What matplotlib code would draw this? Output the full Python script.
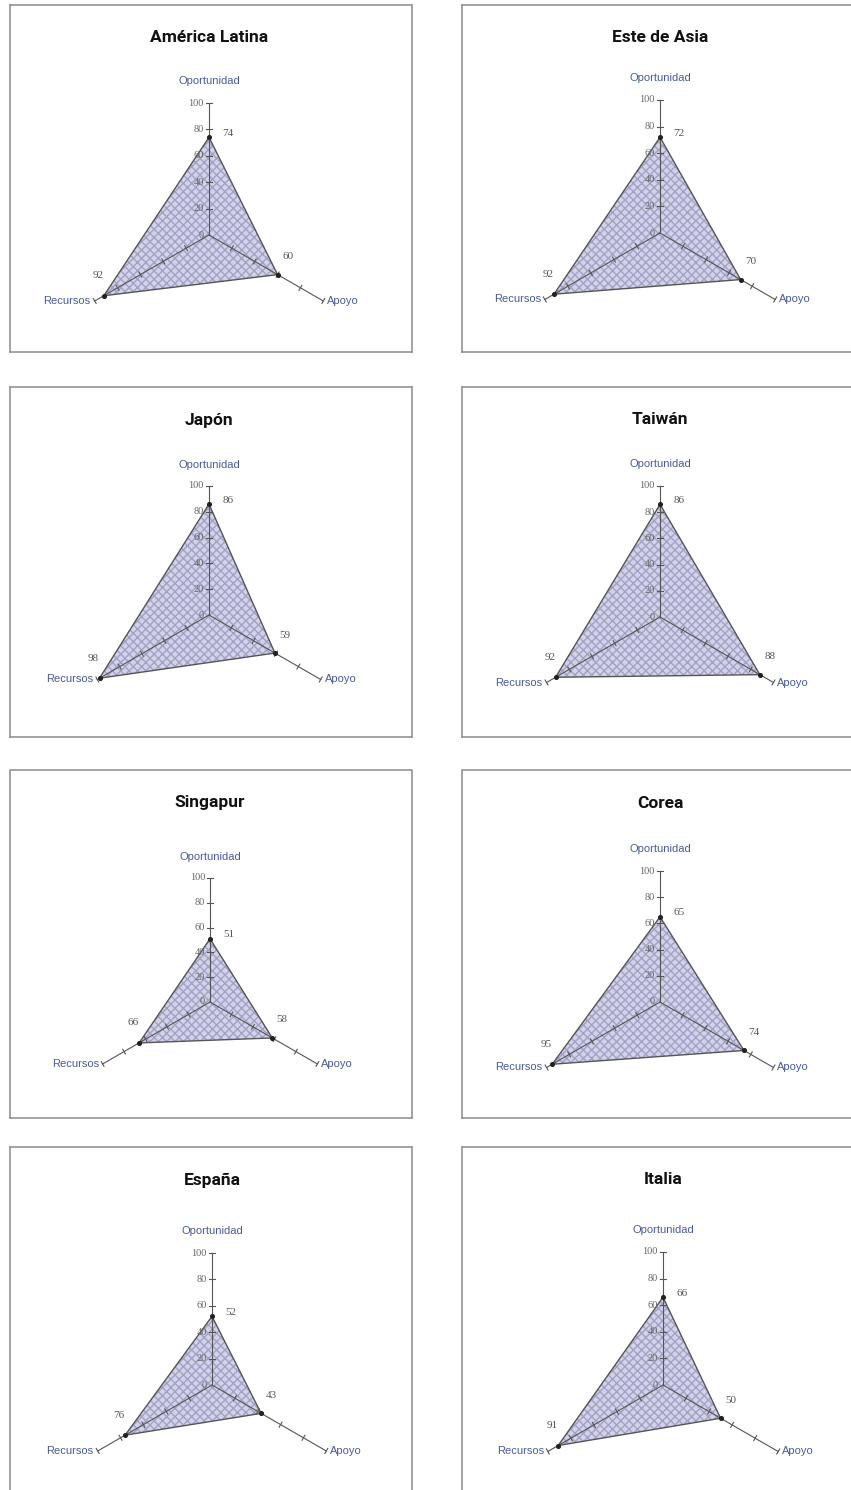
import numpy as np
import matplotlib
matplotlib.use("Agg")
import matplotlib.pyplot as plt
from matplotlib.patches import Polygon

# Scores per region on the three dimensions (0-100)
regions = ["América Latina", "Este de Asia", "Japón", "Taiwán",
           "Singapur", "Corea", "España", "Italia"]
oportunidad = [74, 72, 86, 86, 51, 65, 52, 66]
apoyo = [60, 70, 59, 88, 58, 74, 43, 50]
recursos = [92, 92, 98, 92, 66, 95, 76, 91]
dimensions = ["Oportunidad", "Apoyo", "Recursos"]
scale_ticks = [0, 20, 40, 60, 80, 100]

W, H = 851, 1490
fig = plt.figure(figsize=(W / 100, H / 100), dpi=100)
fig.patch.set_facecolor("white")

title_font = ["Roboto", "DejaVu Sans"]
sans = ["Liberation Sans", "DejaVu Sans"]
serif = ["Liberation Serif", "DejaVu Serif"]

# panel frames (pixels)
col_x = [10, 462]
row_y = [5, 387, 770, 1147]
row_h = [347, 350, 348, 350]
box_w = 402
# radar centre inside each frame and radius (pixels)
centres = [(199, 230), (198, 228), (199, 228), (198, 230),
           (200, 232), (198, 232), (202, 238), (201, 238)]
radii = [132, 133, 129, 131, 124, 131, 132, 133]

angles = np.deg2rad([90, -30, 210])
axis_col = "#555555"
cat_col = "#4a5a9c"

for i, name in enumerate(regions):
    r, c = divmod(i, 2)
    x0, y0, h = col_x[c], row_y[r], row_h[r]
    cx, cy = centres[i]
    R = radii[i]
    k = 100.0 / R  # data units per pixel

    ax = fig.add_axes([x0 / W, 1 - (y0 + h) / H, box_w / W, h / H])
    ax.set_xlim(-cx * k, (box_w - cx) * k)
    ax.set_ylim(-(h - cy) * k, cy * k)
    ax.set_xticks([])
    ax.set_yticks([])
    for sp in ax.spines.values():
        sp.set_linestyle((0, (1, 1)))
        sp.set_color("#8a8a8a")
        sp.set_linewidth(1.1)

    vals = [oportunidad[i], apoyo[i], recursos[i]]
    pts = np.array([[v * np.cos(a), v * np.sin(a)] for v, a in zip(vals, angles)])

    # hatched fill of the score triangle
    ax.add_patch(Polygon(pts, closed=True, facecolor="#d2d2ea",
                         edgecolor="#a2a2c4", hatch="xxxx", linewidth=0, zorder=1))
    closed = np.vstack([pts, pts[:1]])
    ax.plot(closed[:, 0], closed[:, 1], color="#555555", lw=1.0, zorder=3)

    # axes with tick marks
    for a in angles:
        ux, uy = np.cos(a), np.sin(a)
        ax.plot([0, 100 * ux], [0, 100 * uy], color=axis_col, lw=0.8, zorder=2)
        px, py = -uy, ux
        for t in scale_ticks[1:]:
            ax.plot([t * ux - 2.2 * px, t * ux + 2.2 * px],
                    [t * uy - 2.2 * py, t * uy + 2.2 * py],
                    color=axis_col, lw=0.8, zorder=2)

    ax.scatter(pts[:, 0], pts[:, 1], s=7, color="#222222", zorder=4)

    # scale labels on the vertical axis
    for t in scale_ticks:
        ax.text(-4, t, str(t), ha="right", va="center", fontsize=7.5,
                family=serif, color="#666666", zorder=5)

    # dimension names
    ax.text(0, 100 + 15 * k + 5, dimensions[0], ha="center", va="center",
            fontsize=8, family=sans, color=cat_col)
    ax.text(100 * np.cos(angles[1]) + 3, 100 * np.sin(angles[1]), dimensions[1],
            ha="left", va="center", fontsize=8, family=sans, color=cat_col)
    ax.text(100 * np.cos(angles[2]) - 3, 100 * np.sin(angles[2]), dimensions[2],
            ha="right", va="center", fontsize=8, family=sans, color=cat_col)

    # value labels
    offsets = [(19, 4), (10, 18), (-6, 20)]
    for (vx, vy), v, (ox, oy) in zip(pts, vals, offsets):
        ax.annotate(str(v), (vx, vy), xytext=(ox * 0.72, oy * 0.72),
                    textcoords="offset points", ha="center", va="center",
                    fontsize=8, family=serif, color="#555555", zorder=5)

    # panel title
    ax.text(cx / box_w, 1 - 33 / h, name, transform=ax.transAxes,
            ha="center", va="center", fontsize=12.5, fontweight="bold",
            family=title_font, color="#111111")

fig.savefig("out.png", dpi=100, facecolor="white")
